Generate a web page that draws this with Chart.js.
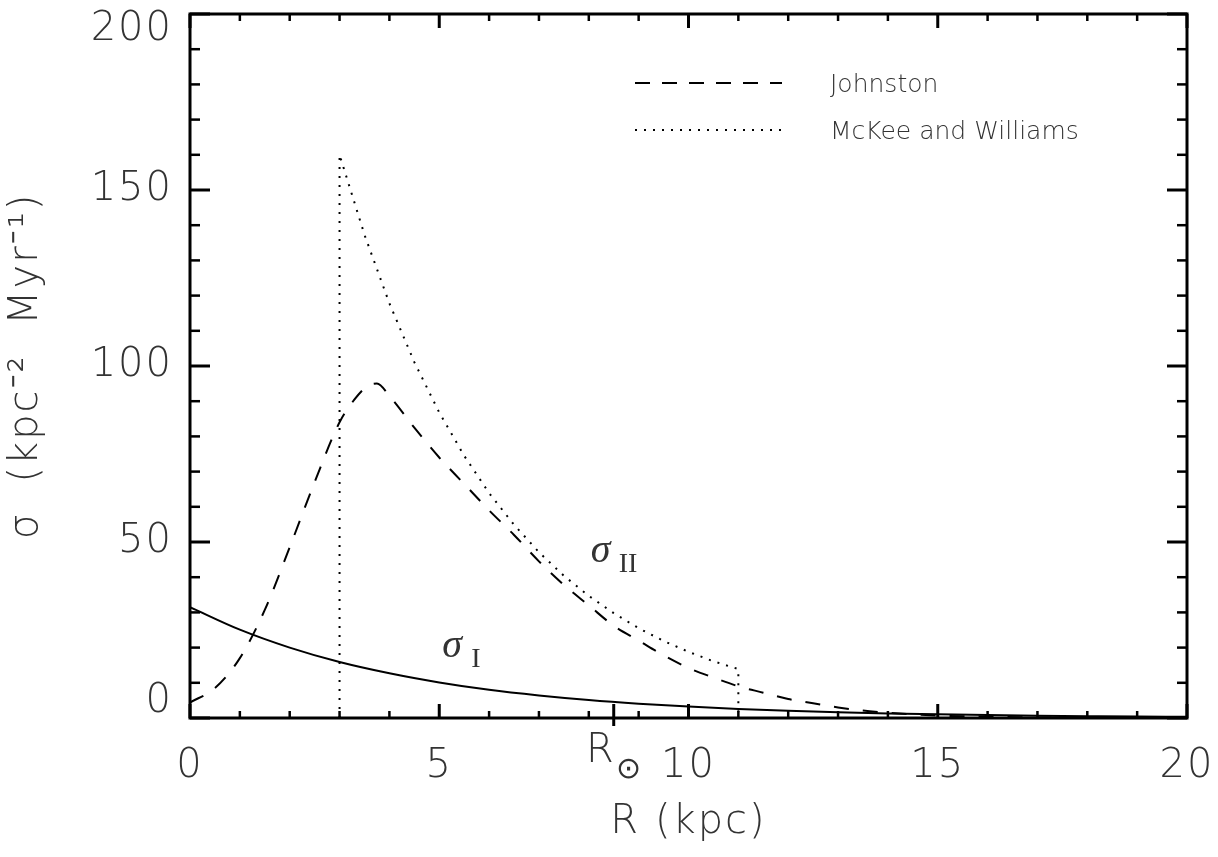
<!DOCTYPE html>
<html>
<head>
<meta charset="utf-8">
<title>Supernova surface rate vs radius</title>
<script src="https://cdn.jsdelivr.net/npm/chart.js@4.4.0/dist/chart.umd.min.js"></script>
<style>
    html, body { margin: 0; padding: 0; background: #ffffff; }
    canvas { display: block; }
</style>
</head>
<body>
<canvas id="sigmaChart" width="1218" height="857"></canvas>
<script>
// Surface rate sigma(R)

// sigma_I (solid)
const radiusOne = [0, 1, 2, 3, 4, 5, 6, 7, 8, 9, 10, 11, 12, 13, 14, 15, 16, 17, 18, 19, 20];
const sigmaOne = [31.5, 25.1, 20.0, 15.9, 12.7, 10.1, 8.0, 6.4, 5.1, 4.07, 3.24, 2.58, 2.06, 1.64, 1.3, 1.04, 0.83, 0.66, 0.53, 0.42, 0.33];

// Johnston (dashed)
const radiusJohnston = [0, 0.5, 1, 1.5, 2, 2.5, 3, 3.3, 3.55, 3.75, 4, 4.5, 5, 5.5, 6, 6.5, 7, 7.5, 8, 8.5, 9, 9.5, 10, 10.5, 11, 11.5, 12, 12.5, 13, 13.5, 14, 14.5, 15, 16, 17, 18, 19, 20];
const sigmaJohnston = [4.4, 8.5, 17, 30.7, 48.5, 67, 84, 90.5, 94.2, 95, 91.5, 82.5, 74, 66.5, 59, 52, 44.5, 37.8, 32, 26.2, 22, 17.8, 14.2, 11.5, 9, 7.2, 5.4, 4.2, 3.0, 2.1, 1.5, 1.0, 0.7, 0.35, 0.15, 0.07, 0.03, 0.01];

// McKee and Williams (dotted), with its vertical edges at 3 and 11 kpc
const radiusMcKee = [3, 3, 3.5, 4, 4.5, 5, 5.5, 6, 6.5, 7, 7.5, 8, 8.5, 9, 9.5, 10, 10.5, 11, 11];
const sigmaMcKee = [0, 160, 137.3, 117.8, 101.1, 86.8, 74.5, 63.9, 54.9, 47.1, 40.4, 34.7, 29.8, 25.5, 21.9, 18.8, 16.1, 13.9, 0];

const xTicks = [0, 5, 10, 15, 20];
const yTicks = [0, 50, 100, 150, 200];
const legendNames = ['Johnston', 'McKee and Williams'];
const sunRadius = 8.5;

const TEXT = '#333333';
const SANS = '"DejaVu Sans", sans-serif';

function toPoints(xs, ys) {
    return xs.map((x, i) => ({ x: x, y: ys[i] }));
}

function strokeLine(ctx, x1, y1, x2, y2) {
    ctx.beginPath();
    ctx.moveTo(x1, y1);
    ctx.lineTo(x2, y2);
    ctx.stroke();
}

// The original font is wide and airy, so spread the axis text a little
const spacingPlugin = {
    id: 'spacingPlugin',
    beforeDraw(chart) {
        chart.ctx.letterSpacing = '2px';
    }
};

// Box frame, inward ticks, R_sun mark, legend and curve names
const framePlugin = {
    id: 'framePlugin',
    afterDatasetsDraw(chart) {
        const { ctx, chartArea: a } = chart;
        const xs = chart.scales.x;
        const ys = chart.scales.y;
        ctx.save();
        ctx.strokeStyle = '#000';
        ctx.setLineDash([]);

        // x ticks (top and bottom)
        for (let v = xTicks[0]; v <= xTicks[xTicks.length - 1]; v += 1) {
            const px = xs.getPixelForValue(v);
            const major = xTicks.includes(v);
            const len = major ? 14 : 7;
            ctx.lineWidth = major ? 3 : 2.5;
            strokeLine(ctx, px, a.bottom, px, a.bottom - len);
            strokeLine(ctx, px, a.top, px, a.top + len);
        }
        // y ticks (left and right)
        for (let v = yTicks[0]; v <= yTicks[yTicks.length - 1]; v += 10) {
            const py = ys.getPixelForValue(v);
            const major = yTicks.includes(v);
            const len = major ? 20 : 10;
            ctx.lineWidth = major ? 3 : 2.5;
            strokeLine(ctx, a.left, py, a.left + len, py);
            strokeLine(ctx, a.right, py, a.right - len, py);
        }

        // R_sun tick
        const sx = xs.getPixelForValue(sunRadius);
        ctx.lineWidth = 3;
        strokeLine(ctx, sx, a.bottom - 14, sx, a.bottom + 8);

        // frame
        ctx.lineWidth = 3;
        ctx.strokeRect(a.left, a.top, a.right - a.left, a.bottom - a.top);

        ctx.fillStyle = TEXT;
        ctx.textBaseline = 'alphabetic';
        ctx.letterSpacing = '0px';

        // R_sun label
        ctx.font = '200 40px ' + SANS;
        ctx.textAlign = 'right';
        ctx.fillText('R', sx, a.bottom + 44);
        ctx.font = '200 30px ' + SANS;
        ctx.textAlign = 'left';
        ctx.fillText('\u2299', sx + 2, a.bottom + 60);

        // legend
        ctx.strokeStyle = '#000';
        ctx.lineWidth = 2;
        ctx.setLineDash([15, 12]);
        strokeLine(ctx, a.left + 445, a.top + 69, a.left + 592, a.top + 69);
        ctx.setLineDash([2, 7]);
        strokeLine(ctx, a.left + 445, a.top + 116, a.left + 595, a.top + 116);
        ctx.setLineDash([]);
        ctx.font = '200 25px ' + SANS;
        ctx.fillText(legendNames[0], a.left + 640, a.top + 78);
        ctx.fillText(legendNames[1], a.left + 640, a.top + 125);

        // curve names
        const p1x = xs.getPixelForValue(5.06), p1y = ys.getPixelForValue(17.3);
        const p2x = xs.getPixelForValue(8.04), p2y = ys.getPixelForValue(44.3);
        ctx.font = 'italic 40px "Liberation Serif", serif';
        ctx.fillText('\u03C3', p1x, p1y);
        ctx.fillText('\u03C3', p2x, p2y);
        ctx.font = '28px "Liberation Serif", serif';
        ctx.fillText('I', p1x + 29, p1y + 10);
        ctx.fillText('II', p2x + 28, p2y + 10);

        ctx.restore();
    }
};

const tickFont = { family: SANS, size: 40, weight: 200, lineHeight: 1.2 };

new Chart(document.getElementById('sigmaChart'), {
    type: 'line',
    data: {
        datasets: [
            {
                label: 'sigma I',
                data: toPoints(radiusOne, sigmaOne),
                borderColor: '#000',
                borderWidth: 2,
                pointRadius: 0,
                cubicInterpolationMode: 'monotone',
                fill: false
            },
            {
                label: legendNames[0],
                data: toPoints(radiusJohnston, sigmaJohnston),
                borderColor: '#000',
                borderWidth: 2,
                borderDash: [15, 14],
                pointRadius: 0,
                cubicInterpolationMode: 'monotone',
                fill: false
            },
            {
                label: legendNames[1],
                data: toPoints(radiusMcKee, sigmaMcKee),
                borderColor: '#000',
                borderWidth: 2,
                borderDash: [2, 7],
                pointRadius: 0,
                tension: 0,
                fill: false
            }
        ]
    },
    options: {
        responsive: false,
        animation: false,
        layout: {
            padding: { top: 14, right: 31, bottom: 0, left: 0 }
        },
        plugins: {
            legend: { display: false },
            tooltip: { enabled: false }
        },
        scales: {
            x: {
                type: 'linear',
                min: 0,
                max: 20,
                grid: { display: false, drawTicks: false },
                border: { display: false },
                ticks: {
                    stepSize: 5,
                    padding: 25,
                    color: TEXT,
                    maxRotation: 0,
                    autoSkip: false,
                    font: tickFont
                },
                title: {
                    display: true,
                    text: 'R (kpc)',
                    color: TEXT,
                    font: tickFont,
                    padding: { top: 0, bottom: 10 }
                },
                afterFit: function(scale) {
                    scale.height = 139;
                    scale.paddingLeft = 0;
                    scale.paddingRight = 0;
                }
            },
            y: {
                type: 'linear',
                min: 0,
                max: 200,
                grid: { display: false, drawTicks: false },
                border: { display: false },
                ticks: {
                    stepSize: 50,
                    padding: 17,
                    color: TEXT,
                    font: { family: SANS, size: 40, weight: 200, lineHeight: 0.8 },
                    // nudge the end labels inside the frame like the original
                    callback: function(value) {
                        if (value === yTicks[yTicks.length - 1]) return ['', String(value)];
                        if (value === yTicks[0]) return [String(value), ''];
                        return String(value);
                    }
                },
                title: {
                    display: true,
                    text: '\u03C3  (kpc\u207B\u00B2  Myr\u207B\u00B9)',
                    color: TEXT,
                    font: tickFont,
                    padding: { top: 3, bottom: 0 }
                },
                afterFit: function(scale) {
                    scale.width = 190;
                    scale.paddingTop = 0;
                    scale.paddingBottom = 0;
                }
            }
        }
    },
    plugins: [spacingPlugin, framePlugin]
});
</script>
</body>
</html>
